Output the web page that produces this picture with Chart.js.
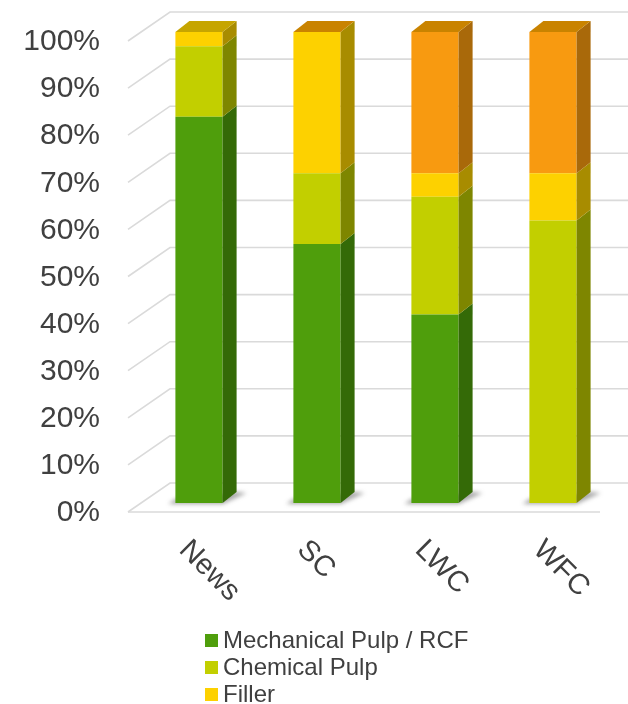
<!DOCTYPE html>
<html><head><meta charset="utf-8">
<script src="https://cdn.jsdelivr.net/npm/chart.js@4.4.1/dist/chart.umd.min.js"></script>
<style>html,body{margin:0;padding:0;background:#fff}#wrap{width:628px;height:704px}</style>
</head><body><div id="wrap"><canvas id="c" width="628" height="704"></canvas></div>
<script>
const categories = ['News', 'SC', 'LWC', 'WFC'];
const mechanicalPulp = [82, 55, 40, 0];
const chemicalPulp = [15, 15, 25, 60];
const filler = [3, 30, 5, 10];
const coating = [null, 0, 30, 30];
const seriesLabels = ['Mechanical Pulp / RCF', 'Chemical Pulp', 'Filler', 'Coating'];
const yTickLabels = ['0%', '10%', '20%', '30%', '40%', '50%', '60%', '70%', '80%', '90%', '100%'];

const FONT = '"Liberation Sans", Arial, sans-serif';
const TEXT = '#404040';
const faces = [
  { front: '#4F9E0C', side: '#346A07', top: '#3F7E09' },
  { front: '#C2CF00', side: '#7E8600', top: '#9EA800' },
  { front: '#FDD100', side: '#A88C00', top: '#C6A500' },
  { front: '#F89A10', side: '#A9690A', top: '#C98300' }
];
const DX = 14, DY = -11;

const threeD = {
  id: 'threeD',
  beforeDatasetsDraw(chart) {
    const ctx = chart.ctx, y = chart.scales.y, area = chart.chartArea;
    ctx.save();
    ctx.strokeStyle = '#DADADA';
    ctx.lineWidth = 1.6;
    y.ticks.forEach(t => {
      const p = y.getPixelForValue(t.value);
      ctx.beginPath();
      ctx.moveTo(area.left - 12, p + 9);
      ctx.lineTo(area.left + 30, p - 20);
      ctx.lineTo(chart.width, p - 20);
      ctx.stroke();
      if (t.value === 0) {
        ctx.beginPath();
        ctx.moveTo(area.left - 12, p + 9);
        ctx.lineTo(area.right - 12, p + 9);
        ctx.stroke();
      }
    });
    // floor shadows
    const meta = chart.getDatasetMeta(0);
    const base = y.getPixelForValue(0);
    ctx.filter = 'blur(2px)';
    ctx.fillStyle = 'rgba(60,60,60,0.45)';
    meta.data.forEach(el => {
      const l = el.x - el.width / 2, r = el.x + el.width / 2;
      ctx.beginPath();
      ctx.moveTo(l - 7, base + 1);
      ctx.lineTo(r, base + 1);
      ctx.lineTo(r + DX + 10, base + DY + 1);
      ctx.lineTo(r + DX, base + DY);
      ctx.lineTo(l, base - 4);
      ctx.closePath();
      ctx.fill();
    });
    ctx.restore();
  },
  afterDatasetsDraw(chart) {
    const ctx = chart.ctx;
    const n = chart.data.labels.length;
    ctx.save();
    for (let j = 0; j < n; j++) {
      let topIdx = -1;
      chart.data.datasets.forEach((ds, i) => { if (ds.data[j] !== null && ds.data[j] !== undefined) topIdx = i; });
      chart.data.datasets.forEach((ds, i) => {
        const v = ds.data[j];
        if (v === null || v === undefined) return;
        const el = chart.getDatasetMeta(i).data[j];
        const l = el.x - el.width / 2, r = el.x + el.width / 2;
        const top = Math.min(el.y, el.base), bot = Math.max(el.y, el.base);
        if (v > 0) {
          ctx.fillStyle = faces[i].side;
          ctx.beginPath();
          ctx.moveTo(r, top); ctx.lineTo(r + DX, top + DY);
          ctx.lineTo(r + DX, bot + DY); ctx.lineTo(r, bot);
          ctx.closePath(); ctx.fill();
        }
        if (i === topIdx) {
          ctx.fillStyle = faces[i].top;
          ctx.beginPath();
          ctx.moveTo(l, top); ctx.lineTo(l + DX, top + DY);
          ctx.lineTo(r + DX, top + DY); ctx.lineTo(r, top);
          ctx.closePath(); ctx.fill();
        }
      });
    }
    ctx.restore();
  },
  afterDraw(chart) {
    const ctx = chart.ctx, x = chart.scales.x;
    ctx.save();
    ctx.fillStyle = TEXT;
    ctx.font = '29px ' + FONT;
    ctx.textAlign = 'left';
    ctx.textBaseline = 'alphabetic';
    chart.data.labels.forEach((lab, j) => {
      const px = x.getPixelForValue(j);
      ctx.save();
      ctx.translate(px - 21, 551);
      ctx.rotate(Math.PI / 4);
      ctx.fillText(lab, 0, 0);
      ctx.restore();
    });
    // legend
    ctx.font = '24px ' + FONT;
    chart.data.datasets.forEach((ds, i) => {
      const base = 648 + i * 27;
      ctx.fillStyle = ds.backgroundColor;
      ctx.fillRect(205, base - 14, 13, 13);
      ctx.fillStyle = TEXT;
      ctx.fillText(ds.label, 223, base);
    });
    ctx.restore();
  }
};

const datasetsData = [mechanicalPulp, chemicalPulp, filler, coating];
new Chart(document.getElementById('c'), {
  type: 'bar',
  data: {
    labels: categories,
    datasets: datasetsData.map((d, i) => ({
      label: seriesLabels[i],
      data: d,
      backgroundColor: faces[i].front,
      borderWidth: 0,
      barPercentage: 0.4,
      categoryPercentage: 1
    }))
  },
  options: {
    responsive: false,
    animation: false,
    devicePixelRatio: 1,
    layout: { padding: { left: 0, right: 16, top: 32, bottom: 201 } },
    plugins: { legend: { display: false }, tooltip: { enabled: false } },
    scales: {
      x: {
        stacked: true,
        grid: { display: false, drawTicks: false },
        border: { display: false },
        ticks: { display: false },
        afterFit: s => { s.height = 0; }
      },
      y: {
        stacked: true,
        min: 0, max: 100,
        grid: { display: false, drawTicks: false },
        border: { display: false },
        afterFit: s => { s.width = 140; s.paddingTop = 0; s.paddingBottom = 0; },
        ticks: {
          stepSize: 10,
          padding: 40,
          labelOffset: 10,
          color: TEXT,
          font: { family: FONT, size: 30 },
          callback: (v, idx) => yTickLabels[idx]
        }
      }
    }
  },
  plugins: [threeD]
});
</script>
</body></html>
